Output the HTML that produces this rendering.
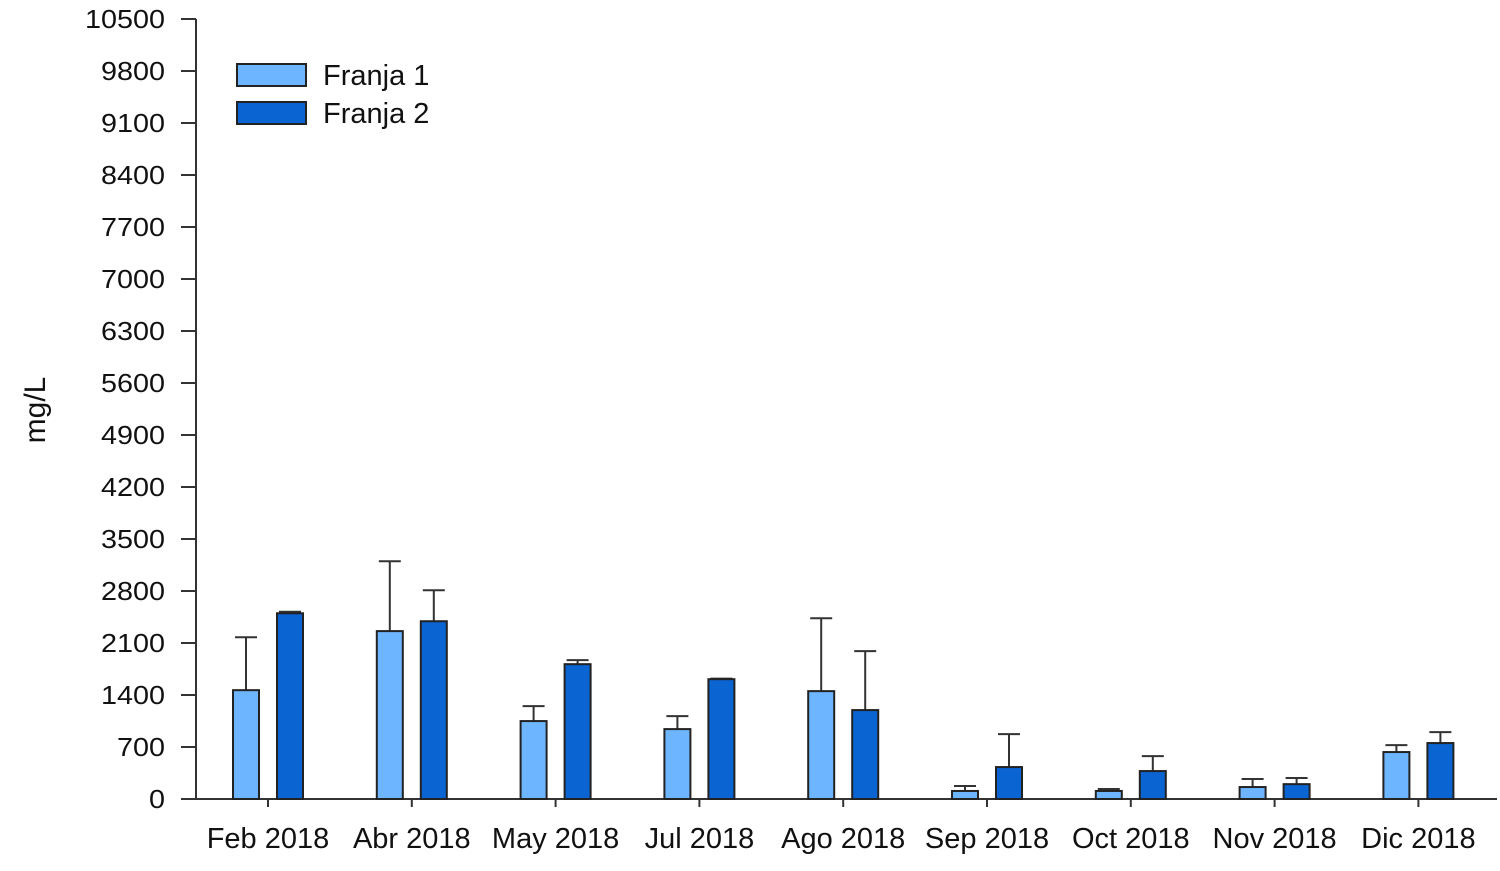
<!DOCTYPE html>
<html><head><meta charset="utf-8">
<style>
html,body{margin:0;padding:0;background:#fff;}
svg{display:block;font-family:"Liberation Sans",Arial,sans-serif;}
</style></head>
<body>
<svg id="chart" width="1500" height="871" viewBox="0 0 1500 871">
  <g id="axes"></g>
  <g id="bars"></g>
  <text x="45" y="410" font-size="30" fill="#111" text-anchor="middle" transform="rotate(-90 45 410)">mg/L</text>
  <g>
    <g>
      <rect x="237" y="64" width="69" height="22" fill="#6db6ff" stroke="#222" stroke-width="2"/>
      <text x="323" y="85" font-size="29" fill="#111">Franja 1</text>
    </g>
    <g>
      <rect x="237" y="102" width="69" height="22" fill="#0a64d2" stroke="#222" stroke-width="2"/>
      <text x="323" y="123" font-size="29" fill="#111">Franja 2</text>
    </g>
  </g>
</svg>
<script>
const categories = ["Feb 2018","Abr 2018","May 2018","Jul 2018","Ago 2018","Sep 2018","Oct 2018","Nov 2018","Dic 2018"];
const franja1 = [1465, 2260, 1049, 941, 1452, 108, 108, 161, 632];
const franja1Err = [2178, 3200, 1250, 1116, 2433, 175, 135, 269, 726];
const franja2 = [2500, 2393, 1815, 1613, 1197, 430, 376, 200, 753];
const franja2Err = [2520, 2810, 1870, 1620, 1990, 874, 578, 282, 900];
const yTicks = [0,700,1400,2100,2800,3500,4200,4900,5600,6300,7000,7700,8400,9100,9800,10500];

const NS = "http://www.w3.org/2000/svg";
const x0 = 196, y0 = 799, yTop = 19, yMax = 10500;
const cat0 = 268, catStep = 143.8;
function yScale(v){ return y0 - (v / yMax) * (y0 - yTop); }
function xCenter(i){ return cat0 + i * catStep; }
function mk(tag, attrs, parent){
  const e = document.createElementNS(NS, tag);
  for (const k in attrs) e.setAttribute(k, attrs[k]);
  parent.appendChild(e);
  return e;
}
const axes = document.getElementById("axes");
const bars = document.getElementById("bars");

const yAxis = mk("line", {x1:x0, y1:yTop, x2:x0, y2:y0, stroke:"#333", "stroke-width":2}, axes);


const xAxis = mk("line", {x1:x0, y1:y0, x2:1497, y2:y0, stroke:"#333", "stroke-width":2}, axes);



yTicks.forEach(v => {
  const y = yScale(v);
  mk("line", {x1:181, y1:y, x2:x0, y2:y, stroke:"#333", "stroke-width":2}, axes);
  const t = mk("text", {x:165, y:y+9, "font-size":26, "text-anchor":"end", fill:"#111", textLength: String(v).length*16, lengthAdjust:"spacingAndGlyphs"}, axes);
  t.textContent = v;
  
  
});

categories.forEach((c, i) => {
  const cx = xCenter(i);
  mk("line", {x1:cx, y1:y0, x2:cx, y2:y0+8, stroke:"#333", "stroke-width":2}, axes);
  const t = mk("text", {x:cx, y:848, "font-size":29, "text-anchor":"middle", fill:"#111"}, axes);
  t.textContent = c;
  
  

  const series = [[franja1, franja1Err, "#6db6ff", -35], [franja2, franja2Err, "#0a64d2", 9]];
  series.forEach((s, k) => {
    const vals = s[0], errs = s[1];
    const bx = cx + s[3], w = 26;
    const yv = yScale(vals[i]), ye = yScale(errs[i]);
    const ex = bx + w/2;
    const el = mk("line", {x1:ex, y1:yv, x2:ex, y2:ye, stroke:"#333", "stroke-width":2}, bars);
    
    
    mk("line", {x1:ex-11, y1:ye, x2:ex+11, y2:ye, stroke:"#333", "stroke-width":2}, bars);
    const r = mk("rect", {x:bx, y:yv, width:w, height:y0-yv, fill:s[2], stroke:"#222", "stroke-width":2}, bars);
    
    
  });
});
</script>
</body></html>
